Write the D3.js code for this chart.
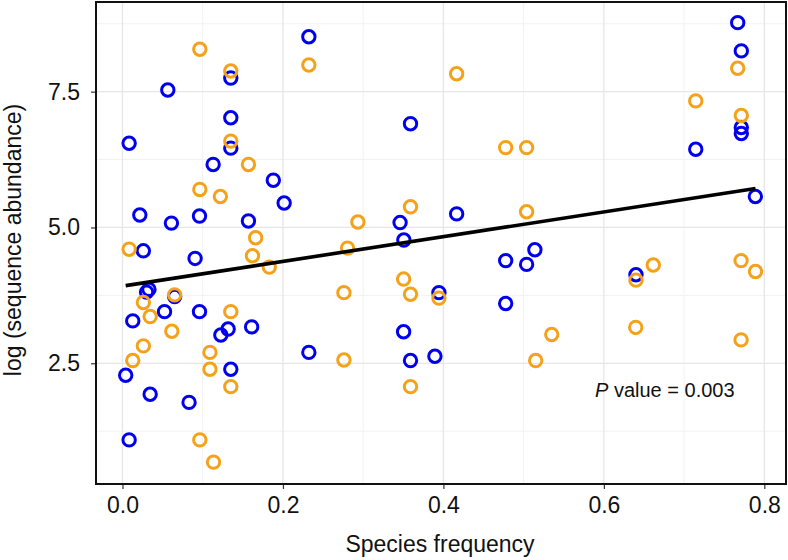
<!DOCTYPE html>
<html>
<head>
<meta charset="utf-8">
<script src="https://cdn.jsdelivr.net/npm/d3@7"></script>
<style>
  html, body { margin: 0; padding: 0; background: #fff; }
  svg { display: block; font-family: "Liberation Sans", Arial, Helvetica, sans-serif; }
</style>
</head>
<body>
<svg id="chart" width="788" height="560"></svg>
<script>
// ---- data ----
const blueX = [0.135,0.0565,0.135,0.135,0.0083,0.113,0.188,0.2015,0.0216,0.061,0.096,0.157,0.026,0.0905,0.033,0.030,0.065,0.0524,0.096,0.0128,0.161,0.1317,0.1226,0.004,0.135,0.0345,0.083,0.0083,0.2323,0.359,0.346,0.4165,0.3507,0.514,0.3944,0.4776,0.5037,0.4776,0.3504,0.2323,0.359,0.3894,0.7668,0.7713,0.7713,0.7713,0.7145,0.7888,0.640];
const blueY = [7.75,7.53,7.02,6.46,6.55,6.16,5.87,5.45,5.23,5.08,5.21,5.12,4.57,4.43,3.86,3.81,3.73,3.45,3.45,3.28,3.17,3.13,3.02,2.28,2.39,1.93,1.78,1.09,8.51,6.91,5.09,5.25,4.77,4.59,3.80,4.39,4.32,3.60,3.08,2.70,2.55,2.63,8.77,8.25,6.84,6.73,6.44,5.57,4.13];
const orangeX = [0.0964,0.135,0.135,0.157,0.0964,0.122,0.166,0.0083,0.162,0.183,0.065,0.026,0.135,0.0345,0.0615,0.026,0.109,0.0128,0.109,0.135,0.0964,0.1135,0.2323,0.4165,0.4776,0.5037,0.359,0.2934,0.5037,0.2805,0.3504,0.276,0.359,0.3944,0.276,0.359,0.515,0.7668,0.7145,0.7713,0.535,0.640,0.6616,0.6397,0.771,0.789,0.771];
const orangeY = [8.28,7.88,6.59,6.16,5.70,5.57,4.81,4.60,4.48,4.27,3.76,3.62,3.45,3.36,3.09,2.82,2.70,2.55,2.39,2.07,1.09,0.68,7.99,7.83,6.47,6.47,5.38,5.10,5.29,4.62,4.05,3.80,3.77,3.70,2.56,2.07,2.55,7.93,7.33,7.06,3.03,4.03,4.31,3.16,4.39,4.19,2.93];
const fitIntercept = 3.92;
const fitSlope = 2.276;
const xTicks = [0, 0.2, 0.4, 0.6, 0.8];
const xTickLabels = ["0.0", "0.2", "0.4", "0.6", "0.8"];
const xMinor = [0.1, 0.3, 0.5, 0.7];
const yTicks = [2.5, 5.0, 7.5];
const yTickLabels = ["2.5", "5.0", "7.5"];
const yMinor = [1.25, 3.75, 6.25, 8.75];
const xTitle = "Species frequency";
const yTitle = "log (sequence abundance)";
const pValueLabel = "0.003";

// ---- layout ----
const svg = d3.select("#chart");
const L = 96, R = 786, T = 2, B = 484;
const BLUE = "#0000ee", ORANGE = "#f5a21b";

const x = d3.scaleLinear().domain([-0.033, 0.827]).range([L, R]);
const y = d3.scaleLinear().domain([0.278, 9.15]).range([B, T]);

const g = svg.append("g");

// grid
g.selectAll(".xminor").data(xMinor).enter().append("line")
  .attr("x1", d => x(d)).attr("x2", d => x(d)).attr("y1", T).attr("y2", B)
  .attr("stroke", "#f2f2f2").attr("stroke-width", 1);
g.selectAll(".yminor").data(yMinor).enter().append("line")
  .attr("y1", d => y(d)).attr("y2", d => y(d)).attr("x1", L).attr("x2", R)
  .attr("stroke", "#f2f2f2").attr("stroke-width", 1);
g.selectAll(".xmajor").data(xTicks).enter().append("line")
  .attr("x1", d => x(d)).attr("x2", d => x(d)).attr("y1", T).attr("y2", B)
  .attr("stroke", "#e6e6e6").attr("stroke-width", 1.3);
g.selectAll(".ymajor").data(yTicks).enter().append("line")
  .attr("y1", d => y(d)).attr("y2", d => y(d)).attr("x1", L).attr("x2", R)
  .attr("stroke", "#e6e6e6").attr("stroke-width", 1.3);

// points
const blue = blueX.map((v, i) => ({x: v, y: blueY[i]}));
const orange = orangeX.map((v, i) => ({x: v, y: orangeY[i]}));
g.selectAll(".pb").data(blue).enter().append("circle")
  .attr("cx", d => x(d.x)).attr("cy", d => y(d.y)).attr("r", 6.2)
  .attr("fill", "none").attr("stroke", BLUE).attr("stroke-width", 3);
g.selectAll(".po").data(orange).enter().append("circle")
  .attr("cx", d => x(d.x)).attr("cy", d => y(d.y)).attr("r", 6.2)
  .attr("fill", "none").attr("stroke", ORANGE).attr("stroke-width", 3);

// fit line
const allX = blueX.concat(orangeX);
const xe = d3.extent(allX);
g.append("line")
  .attr("x1", x(xe[0])).attr("y1", y(fitIntercept + fitSlope * xe[0]))
  .attr("x2", x(xe[1])).attr("y2", y(fitIntercept + fitSlope * xe[1]))
  .attr("stroke", "#000").attr("stroke-width", 3.6);

// panel border
g.append("rect").attr("x", L).attr("y", T).attr("width", R - L).attr("height", B - T)
  .attr("fill", "none").attr("stroke", "#111").attr("stroke-width", 2);

// axes
const xAxis = d3.axisBottom(x).tickValues(xTicks).tickSize(4).tickPadding(8)
  .tickFormat((d, i) => xTickLabels[i]);
const ga = svg.append("g").attr("transform", `translate(0,${B + 1})`).call(xAxis);
ga.select(".domain").remove();
ga.selectAll("line").attr("stroke", "#333").attr("stroke-width", 1.2);
ga.selectAll("text").attr("font-size", 23).attr("fill", "#111")
  .attr("font-family", "'Liberation Sans', Arial, sans-serif");

const yAxis = d3.axisLeft(y).tickValues(yTicks).tickSize(4).tickPadding(11)
  .tickFormat((d, i) => yTickLabels[i]);
const gy = svg.append("g").attr("transform", `translate(${L - 1},0)`).call(yAxis);
gy.select(".domain").remove();
gy.selectAll("line").attr("stroke", "#333").attr("stroke-width", 1.2);
gy.selectAll("text").attr("font-size", 23).attr("fill", "#111")
  .attr("font-family", "'Liberation Sans', Arial, sans-serif");

// titles
svg.append("text").attr("x", 440).attr("y", 552).attr("text-anchor", "middle")
  .attr("font-size", 23).attr("fill", "#111").text(xTitle);
svg.append("text").attr("transform", "translate(21,240) rotate(-90)")
  .attr("text-anchor", "middle").attr("font-size", 23).attr("fill", "#111").text(yTitle);

// p-value annotation
const pt = svg.append("text").attr("x", 595).attr("y", 397).attr("font-size", 20).attr("fill", "#111");
pt.append("tspan").attr("font-style", "italic").text("P");
pt.append("tspan").text(" value = " + pValueLabel);
</script>
</body>
</html>
